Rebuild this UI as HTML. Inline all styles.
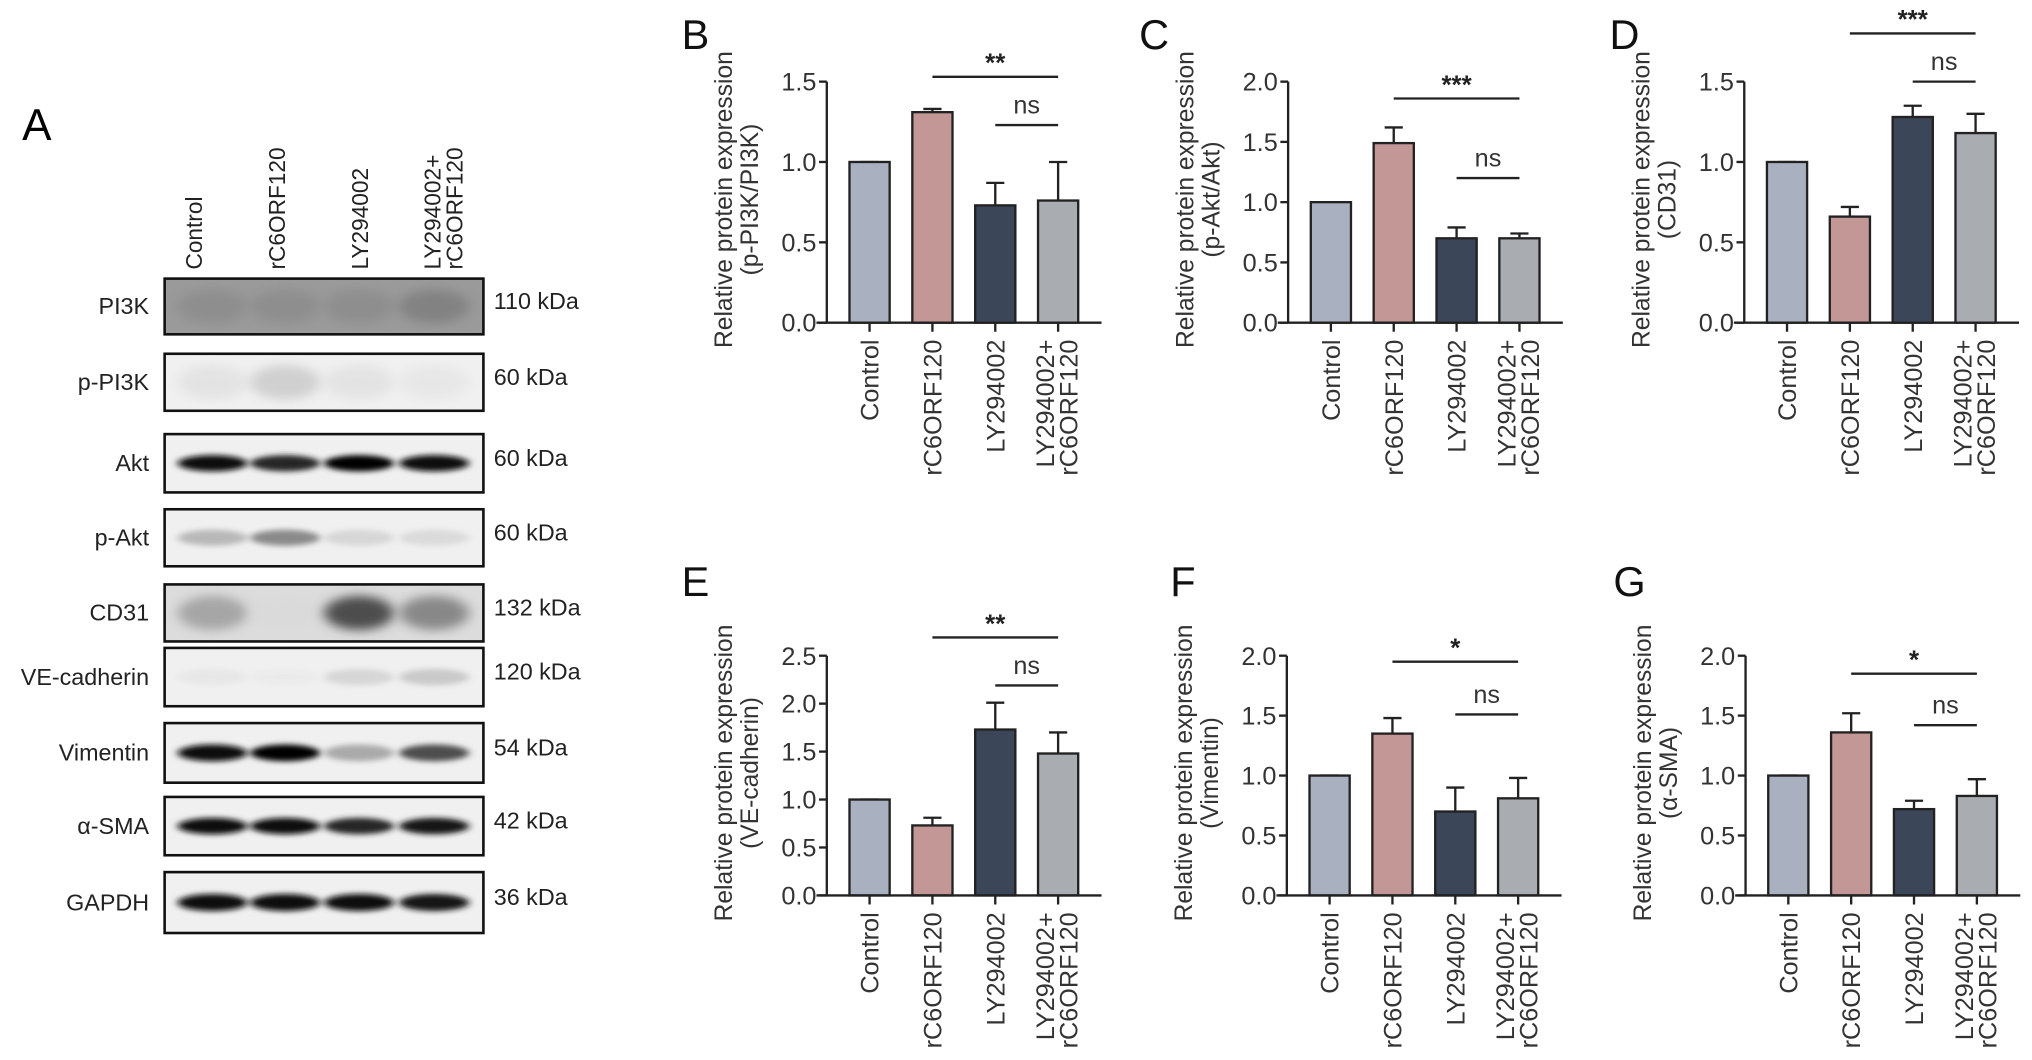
<!DOCTYPE html>
<html><head><meta charset="utf-8">
<style>
html,body{margin:0;padding:0;background:#fff;}
svg{display:block;font-family:"Liberation Sans",Arial,sans-serif;}
</style></head>
<body>
<svg id="fig" width="2032" height="1060" viewBox="0 0 1568 818" xmlns="http://www.w3.org/2000/svg">
<defs>
<filter id="blur" x="-20%" y="-100%" width="140%" height="300%"><feGaussianBlur stdDeviation="3 2"/></filter>
<filter id="blur2" x="-20%" y="-100%" width="140%" height="300%"><feGaussianBlur stdDeviation="5 4"/></filter>
</defs>
<g id="blots"></g>
<g id="charts"></g>
</svg>
<script>
const NS='http://www.w3.org/2000/svg';
const categories=['Control','rC6ORF120','LY294002','LY294002+ rC6ORF120'];
const barColors=['#a9b1c0','#c49797','#3c4659','#a9acb1'];
const valsB=[1.0,1.31,0.73,0.76]; const errB=[1.0,1.33,0.87,1.0];
const valsC=[1.0,1.49,0.70,0.70]; const errC=[1.0,1.62,0.79,0.74];
const valsD=[1.0,0.66,1.28,1.18]; const errD=[1.0,0.72,1.35,1.30];
const valsE=[1.0,0.73,1.73,1.48]; const errE=[1.0,0.81,2.01,1.70];
const valsF=[1.0,1.35,0.70,0.81]; const errF=[1.0,1.48,0.90,0.98];
const valsG=[1.0,1.36,0.72,0.83]; const errG=[1.0,1.52,0.79,0.97];
const ticksB=['0.0','0.5','1.0','1.5'];
const ticksC=['0.0','0.5','1.0','1.5','2.0'];
const ticksD=['0.0','0.5','1.0','1.5'];
const ticksE=['0.0','0.5','1.0','1.5','2.0','2.5'];
const ticksF=['0.0','0.5','1.0','1.5','2.0'];
const ticksG=['0.0','0.5','1.0','1.5','2.0'];
const sigLabels=['**','***','***','**','*','*'];
const sigLevels=[1.53,1.86,1.80,2.69,1.95,1.85];
const nsLevels=[1.23,1.20,1.50,2.19,1.51,1.42];
const subtitles=['(p-PI3K/PI3K)','(p-Akt/Akt)','(CD31)','(VE-cadherin)','(Vimentin)','(\u03b1-SMA)'];
const blotRows=['PI3K','p-PI3K','Akt','p-Akt','CD31','VE-cadherin','Vimentin','\u03b1-SMA','GAPDH'];
const blotKda=['110 kDa','60 kDa','60 kDa','60 kDa','132 kDa','120 kDa','54 kDa','42 kDa','36 kDa'];
const bandIntensity=[[0.45,0.45,0.45,0.5],[0.15,0.25,0.15,0.12],[0.95,0.85,1,0.95],[0.35,0.5,0.22,0.2],[0.4,0.15,0.7,0.5],[0.12,0.1,0.22,0.28],[0.95,1,0.4,0.7],[0.95,0.95,0.85,0.9],[0.95,0.95,0.95,0.9]];

function mk(tag,attrs,parent,text){const e=document.createElementNS(NS,tag);for(const k in attrs)e.setAttribute(k,attrs[k]);if(text!==undefined)e.textContent=text;(parent||document.getElementById('fig')).appendChild(e);return e;}

const bg=document.getElementById('blots');
const A=mk('text',{x:17,y:108,'font-size':34},bg,'A');


const laneLabelX=[[156],[220],[284],[340,357]];
const laneLines=[['Control'],['rC6ORF120'],['LY294002'],['LY294002+','rC6ORF120']];
laneLines.forEach((ls,i)=>{ls.forEach((t,j)=>{const x=laneLabelX[i][j];
 const e=mk('text',{x:x,y:208,'font-size':17.5,transform:`rotate(-90 ${x} 208)`,fill:'#222'},bg,t);
 
 });});
const rowTops=[215,273,335,393,451,500,558,615,673];
const rowH=[43,44,45,44,44,45,46,45,47];
const laneX=[164,220,277,335];
blotRows.forEach((name,r)=>{
 const y=rowTops[r],h=rowH[r];
 const g=mk('g',{},bg);
 
 
 const base=r===0?'#9a9a9a':(r===4?'#dcdcdc':'#f0f0f0');
 mk('rect',{x:127,y:y,width:246,height:h,fill:base,stroke:'#111','stroke-width':2},g);
 bandIntensity[r].forEach((v,l)=>{
  const dark=Math.round(255*(1-v));
  const c=`rgb(${dark},${dark},${dark})`;
  const thick=(r<2||r===4)?h*0.6:h*0.28;
  const b=mk('ellipse',{cx:laneX[l],cy:y+h/2,rx:27,ry:thick/2,fill:c,opacity:Math.min(1,0.4+v),filter:(r<2||r===4)?'url(#blur2)':'url(#blur)'},g);
  
  
 });
 const lab=mk('text',{x:115,y:y+h/2+6,'font-size':18,'text-anchor':'end',fill:'#222'},g,name);
 
 
 const kd=mk('text',{x:381,y:y+h/2+2,'font-size':18,fill:'#222'},g,blotKda[r]);
 
 
});

const panels=[
 {L:'B',ax:638,y0:249,yt:63,max:1.5,vals:valsB,err:errB,ticks:ticksB,lx:526,ly:38},
 {L:'C',ax:994,y0:249,yt:63,max:2.0,vals:valsC,err:errC,ticks:ticksC,lx:879,ly:38},
 {L:'D',ax:1346,y0:249,yt:63,max:1.5,vals:valsD,err:errD,ticks:ticksD,lx:1242,ly:38},
 {L:'E',ax:638,y0:691,yt:506,max:2.5,vals:valsE,err:errE,ticks:ticksE,lx:526,ly:460},
 {L:'F',ax:993,y0:691,yt:506,max:2.0,vals:valsF,err:errF,ticks:ticksF,lx:903,ly:460},
 {L:'G',ax:1347,y0:691,yt:506,max:2.0,vals:valsG,err:errG,ticks:ticksG,lx:1245,ly:460}
];
const cg=document.getElementById('charts');
panels.forEach((p,pi)=>{
 const g=mk('g',{},cg);
 
 
 const ys=v=>p.y0-(v/p.max)*(p.y0-p.yt);
 const xs=i=>p.ax+33+i*48.5;
 const lt=mk('text',{x:p.lx,y:p.ly,'font-size':32,fill:'#111'},g,p.L);
 
 
 p.vals.forEach((v,i)=>{
  const x=xs(i),w=31;
  const eb=mk('path',{d:`M${x} ${ys(v)}V${ys(p.err[i])}M${x-7} ${ys(p.err[i])}H${x+7}`,stroke:'#222','stroke-width':1.8,fill:'none'},g);
  
  
  const r=mk('rect',{x:x-w/2,y:ys(v),width:w,height:p.y0-ys(v),fill:barColors[i],stroke:'#222','stroke-width':1.8},g);
  
  
 });
 const ya=mk('line',{x1:p.ax,y1:p.yt,x2:p.ax,y2:p.y0,stroke:'#222','stroke-width':1.8},g);
 
 
 const xa=mk('line',{x1:p.ax-8,y1:p.y0,x2:p.ax+212,y2:p.y0,stroke:'#222','stroke-width':1.8},g);
 
 
 p.ticks.forEach(t=>{
  const y=ys(parseFloat(t));
  mk('line',{x1:p.ax-6,y1:y,x2:p.ax,y2:y,stroke:'#222','stroke-width':1.8},g);
  const tl=mk('text',{x:p.ax-8,y:y+7,'font-size':19.5,'text-anchor':'end',fill:'#333'},g,t);
  
  
 });
 categories.forEach((c,i)=>{
  const x=xs(i);
  mk('line',{x1:x,y1:p.y0,x2:x,y2:p.y0+7,stroke:'#222','stroke-width':1.8},g);
  const parts=c.split(' ');
  parts.forEach((t,j)=>{
   const tx=parts.length>1?x-3+j*18:x+7;
   const e=mk('text',{x:tx,y:p.y0+13,'font-size':19.5,'text-anchor':'end',fill:'#333',transform:`rotate(-90 ${tx} ${p.y0+13})`},g,t);
   
   
  });
 });
 const cy=(p.y0+p.yt)/2-2;
 const t1=mk('text',{x:p.ax-73,y:cy,'font-size':19,'text-anchor':'middle',fill:'#333',transform:`rotate(-90 ${p.ax-73} ${cy})`},g,'Relative protein expression');
 
 
 const t2=mk('text',{x:p.ax-53,y:cy,'font-size':19,'text-anchor':'middle',fill:'#333',transform:`rotate(-90 ${p.ax-53} ${cy})`},g,subtitles[pi]);
 
 
 const sy=ys(sigLevels[pi]);
 const s1=mk('line',{x1:xs(1),y1:sy,x2:xs(3),y2:sy,stroke:'#222','stroke-width':1.8},g);
 
 
 const st=mk('text',{x:(xs(1)+xs(3))/2,y:sy-4,'font-size':20,'font-weight':'bold','text-anchor':'middle',fill:'#222'},g,sigLabels[pi]);
 
 
 const ny=ys(nsLevels[pi]);
 const s2=mk('line',{x1:xs(2),y1:ny,x2:xs(3),y2:ny,stroke:'#222','stroke-width':1.8},g);
 
 
 const nt=mk('text',{x:(xs(2)+xs(3))/2,y:ny-9,'font-size':19.5,'text-anchor':'middle',fill:'#333'},g,'ns');
 
 
});
</script>
</body></html>
